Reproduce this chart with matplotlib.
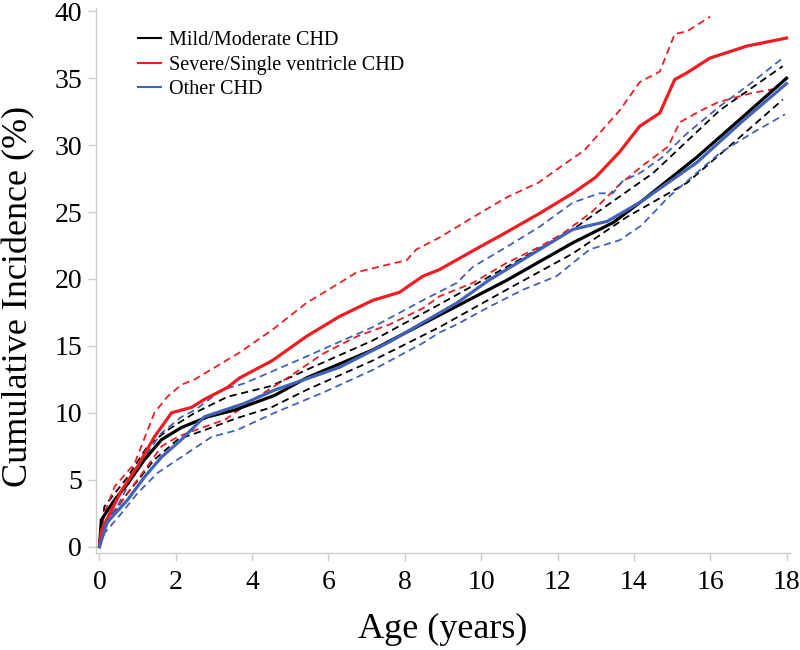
import numpy as np
import matplotlib.pyplot as plt

plt.rcParams['font.family'] = ['Liberation Serif', 'DejaVu Serif']

# Mild/Moderate CHD
mild_x = [0, 0.05, 0.4, 0.74, 1.18, 1.63, 2.15, 2.84, 3.54, 4.59, 5.42, 7.16, 8.91, 10.67, 12.4, 13.45, 14.2, 15.65, 16.85, 18.0]
mild_y = [0, 2.0, 3.5, 4.7, 6.5, 8.0, 8.9, 9.7, 10.2, 11.3, 12.6, 14.7, 17.3, 19.9, 22.7, 24.2, 25.8, 29.1, 32.1, 35.0]
mild_up_x = [0, 0.13, 0.74, 1.26, 1.78, 2.5, 3.36, 4.5, 5.42, 7.16, 8.91, 10.67, 12.4, 14.5, 16.25, 17.9]
mild_up_y = [0, 3.0, 5.2, 7.5, 8.7, 10.0, 11.2, 12.0, 13.2, 15.4, 18.1, 20.9, 23.7, 27.9, 32.6, 35.9]
mild_lo_x = [0, 0.13, 0.74, 1.44, 2.05, 2.75, 3.6, 4.5, 5.42, 7.16, 8.91, 10.67, 12.4, 13.8, 15.4, 16.7, 17.9]
mild_lo_y = [0, 1.7, 4.0, 6.5, 8.0, 8.7, 9.6, 10.4, 11.7, 13.9, 16.4, 19.2, 21.9, 24.6, 27.2, 30.4, 33.4]

# Severe/Single ventricle CHD
sev_x = [0, 0.05, 0.58, 1.0, 1.44, 1.89, 2.41, 2.75, 3.36, 3.67, 4.53, 5.42, 6.29, 7.16, 7.86, 8.47, 8.91,
         9.78, 10.67, 11.53, 12.4, 13.0, 13.63, 14.15, 14.68, 15.07, 15.39, 15.99, 16.96, 18.0]
sev_y = [0, 1.2, 4.2, 6.0, 8.2, 10.0, 10.4, 11.0, 11.9, 12.6, 13.9, 15.7, 17.2, 18.4, 19.0, 20.2, 20.7,
         22.1, 23.5, 24.9, 26.4, 27.6, 29.5, 31.4, 32.4, 34.9, 35.4, 36.5, 37.4, 38.0]
sev_up_x = [0, 0.13, 0.4, 0.92, 1.44, 1.78, 2.15, 2.5, 3.67, 4.53, 5.42, 6.29, 6.74, 7.6, 8.05, 8.3, 8.91,
            9.78, 10.67, 11.5, 12.24, 12.7, 13.63, 14.15, 14.68, 15.07, 15.39, 16.0]
sev_up_y = [0, 2.5, 4.5, 6.2, 10.0, 11.2, 12.1, 12.5, 14.5, 16.2, 18.2, 19.7, 20.5, 21.1, 21.4, 22.2, 23.1,
            24.6, 26.1, 27.2, 28.7, 29.6, 32.6, 34.7, 35.5, 38.3, 38.5, 39.6]
sev_lo_x = [0, 0.2, 0.66, 1.18, 1.63, 2.05, 2.41, 3.3, 4.2, 4.98, 5.85, 6.74, 7.6, 8.47, 8.91, 9.78, 10.67,
            11.53, 12.14, 12.9, 13.6, 14.2, 14.9, 15.2, 15.7, 16.2, 17.1, 17.9]
sev_lo_y = [0, 1.7, 3.7, 5.7, 7.5, 8.2, 8.6, 9.5, 11.3, 12.7, 14.4, 15.7, 16.6, 17.8, 18.7, 19.7, 21.2,
            22.4, 23.4, 25.0, 27.0, 28.4, 29.9, 31.7, 32.5, 33.2, 33.9, 34.3]

# Other CHD
oth_x = [0, 0.2, 0.74, 1.18, 1.63, 2.15, 2.75, 3.8, 4.59, 6.29, 7.6, 9.36, 10.2, 11.53, 12.4, 13.3, 14.15, 15.65, 16.85, 18.0]
oth_y = [0, 1.8, 3.5, 5.2, 6.7, 8.0, 9.7, 10.7, 11.7, 13.4, 15.3, 18.2, 19.9, 22.2, 23.7, 24.3, 25.7, 28.7, 31.8, 34.6]
oth_up_x = [0, 0.05, 0.47, 1.0, 1.63, 2.15, 2.5, 3.2, 3.8, 5.42, 7.16, 8.47, 9.36, 9.78, 10.67, 11.53, 12.4,
            13.1, 13.45, 13.7, 14.15, 14.75, 15.4, 16.25, 17.1, 17.9]
oth_up_y = [0, 1.5, 3.0, 6.0, 8.5, 9.7, 10.2, 11.7, 12.2, 14.2, 16.4, 18.4, 19.7, 20.9, 22.4, 23.9, 25.7,
            26.4, 26.4, 27.3, 27.9, 29.1, 30.9, 32.9, 34.7, 36.5]
oth_lo_x = [0, 0.13, 0.58, 1.0, 1.52, 2.15, 2.94, 3.6, 4.59, 5.85, 7.16, 8.47, 8.91, 9.36, 10.2, 11.1, 11.97,
            12.84, 13.63, 14.2, 14.9, 16.25, 17.1, 17.96]
oth_lo_y = [0, 1.0, 2.5, 4.0, 5.5, 6.7, 8.2, 8.7, 10.0, 11.5, 13.2, 15.2, 16.0, 16.6, 17.9, 19.2, 20.2,
            22.2, 22.9, 24.0, 26.1, 29.4, 30.9, 32.3]

black = '#000000'
red = '#EE1D23'
blue = '#4262B5'

fig = plt.figure(figsize=(8, 6.5), dpi=100)
ax = fig.add_axes([0.12, 0.149, 0.8675, 0.839])

# confidence limits (dashed)
dash = (0, (4, 2.5))
for xs, ys, c in [(mild_up_x, mild_up_y, black), (mild_lo_x, mild_lo_y, black),
                  (sev_up_x, sev_up_y, red), (sev_lo_x, sev_lo_y, red),
                  (oth_up_x, oth_up_y, blue), (oth_lo_x, oth_lo_y, blue)]:
    ax.plot(xs, ys, color=c, lw=1.3, linestyle=dash)

ax.plot(mild_x, mild_y, color=black, lw=2.3, label='Mild/Moderate CHD')
ax.plot(sev_x, sev_y, color=red, lw=2.3, label='Severe/Single ventricle CHD')
ax.plot(oth_x, oth_y, color=blue, lw=2.3, label='Other CHD')

ax.set_xlim(-0.09, 18.09)
ax.set_ylim(-0.49, 40.26)
ax.set_xticks(np.arange(0, 19, 2))
ax.set_yticks(np.arange(0, 41, 5))

for s in ['top', 'right']:
    ax.spines[s].set_visible(False)
for s in ['left', 'bottom']:
    ax.spines[s].set_color('#CCCCCC')
    ax.spines[s].set_linewidth(1.0)
ax.tick_params(axis='both', colors='#CCCCCC', labelcolor='black', labelsize=20, length=6, width=1.0, pad=4)
ax.tick_params(axis='x', pad=6)

ax.set_xlabel('Age (years)', fontsize=26, labelpad=13)
ax.set_ylabel('Cumulative Incidence (%)', fontsize=26)
ax.yaxis.set_label_coords(-0.088, 0.471)

leg = ax.legend(loc='upper left', bbox_to_anchor=(0.035, 0.99), frameon=False, fontsize=14.5,
                handlelength=1.1, handletextpad=0.4, labelspacing=0.25)
for line in leg.get_lines():
    line.set_linewidth(1.5)

fig.savefig('out.png', dpi=100)
